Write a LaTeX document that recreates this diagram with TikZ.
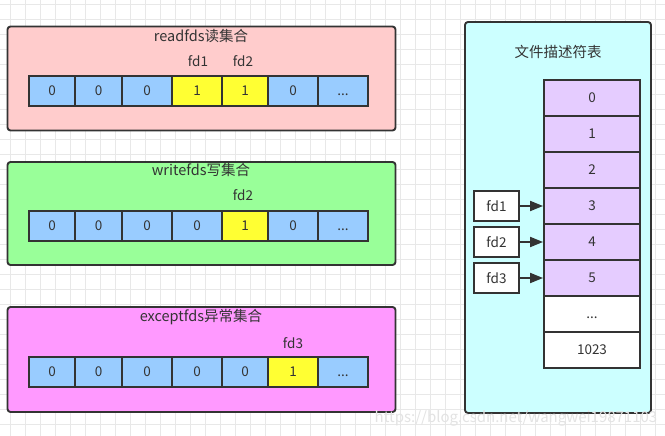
\documentclass[tikz,border=0pt]{standalone}
\usepackage{fontspec}
\setmainfont{Noto Sans CJK SC}
\usetikzlibrary{arrows.meta}
\newcommand{\myell}{\vphantom{0}...}
\definecolor{ln}{HTML}{333333}
\definecolor{txt}{HTML}{333333}
\definecolor{gridc}{HTML}{E8E8E8}
\definecolor{pinkc}{HTML}{FFCCCC}
\definecolor{greenc}{HTML}{99FF99}
\definecolor{magc}{HTML}{FF99FF}
\definecolor{cyanc}{HTML}{CCFFFF}
\definecolor{bluec}{HTML}{99CCFF}
\definecolor{yelc}{HTML}{FFFF33}
\definecolor{purc}{HTML}{E5CCFF}
\begin{document}
\begin{tikzpicture}[x=1pt,y=-1pt,
  panel/.style={draw=ln, line width=1.9pt, rounded corners=3pt, inner sep=0pt},
  cellbox/.style={draw=ln, line width=1.9pt, inner sep=0pt, text=txt, font=\fontsize{13.5}{15}\selectfont},
  title/.style={text=txt, inner sep=0pt, font=\fontsize{14.5}{16}\selectfont},
  lab/.style={text=txt, inner sep=0pt, font=\fontsize{13.5}{15}\selectfont},
  arr/.style={draw=ln, line width=1.9pt, -{Triangle[length=13pt,width=10pt]}}
]
\useasboundingbox (0,0) rectangle (665,436);
\fill[white] (0,0) rectangle (665,436);
\foreach \x in {10,25,...,665} \draw[gridc, line width=0.8pt] (\x,0) -- (\x,436);
\foreach \y in {4,19,...,436} \draw[gridc, line width=0.8pt] (0,\y) -- (665,\y);

% read panel
\node[panel, fill=pinkc, minimum width=388pt, minimum height=104pt] (readp) at (201.5,78.5) {};
\node[title] (readt) at (201,36) {readfds读集合};
\node[lab] (rfd1) at (198,61) {fd1};
\node[lab] (rfd2) at (243,61) {fd2};
\foreach \i/\a/\b/\v/\c in {1/29/75/0/bluec,2/75/122/0/bluec,3/122/172/0/bluec,4/172/222/1/yelc,5/222/268/1/yelc,6/268/318/0/bluec,7/318/368/\myell/bluec}
  \node[cellbox, fill=\c, minimum width={(\b-\a)*1pt}, minimum height=30pt] (r\i) at ({(\a+\b)/2},91) {\v};

% write panel
\node[panel, fill=greenc, minimum width=388pt, minimum height=103pt] (writep) at (201.5,213.5) {};
\node[title] (writet) at (201,170) {writefds写集合};
\node[lab] (wfd2) at (243,195) {fd2};
\foreach \i/\a/\b/\v/\c in {1/29/75/0/bluec,2/75/122/0/bluec,3/122/172/0/bluec,4/172/222/0/bluec,5/222/268/1/yelc,6/268/318/0/bluec,7/318/368/\myell/bluec}
  \node[cellbox, fill=\c, minimum width={(\b-\a)*1pt}, minimum height=30pt] (w\i) at ({(\a+\b)/2},226) {\v};

% except panel
\node[panel, fill=magc, minimum width=388pt, minimum height=105pt] (excp) at (201.5,359.5) {};
\node[title] (exct) at (201,317) {exceptfds异常集合};
\node[lab] (efd3) at (293,343) {fd3};
\foreach \i/\a/\b/\v/\c in {1/29/75/0/bluec,2/75/122/0/bluec,3/122/172/0/bluec,4/172/222/0/bluec,5/222/268/0/bluec,6/268/318/1/yelc,7/318/368/\myell/bluec}
  \node[cellbox, fill=\c, minimum width={(\b-\a)*1pt}, minimum height=30pt] (e\i) at ({(\a+\b)/2},372) {\v};

% fd table panel
\node[panel, fill=cyanc, minimum width=186pt, minimum height=391pt] (tabp) at (558,217.5) {};
\node[title] (tabt) at (558,52) {文件描述符表};
\foreach \i/\v/\c in {0/0/purc,1/1/purc,2/2/purc,3/3/purc,4/4/purc,5/5/purc,6/\myell/white,7/1023/white}
  \node[cellbox, fill=\c, minimum width=96pt, minimum height=36pt] (t\i) at (592,{98+36*\i}) {\v};

\foreach \i/\y in {1/206,2/242,3/278}
  \node[cellbox, fill=white, minimum width=45pt, minimum height=30pt] (fd\i) at (496.5,\y) {fd\i};
\draw[arr] (fd1.east) -- (t3.west);
\draw[arr] (fd2.east) -- (t4.west);
\draw[arr] (fd3.east) -- (t5.west);

\node[text=gray!22, inner sep=0pt, font=\fontsize{15}{17}\selectfont] (wm) at (516,418) {https://blog.csdn.net/wangwei19871103};
\end{tikzpicture}
\end{document}
